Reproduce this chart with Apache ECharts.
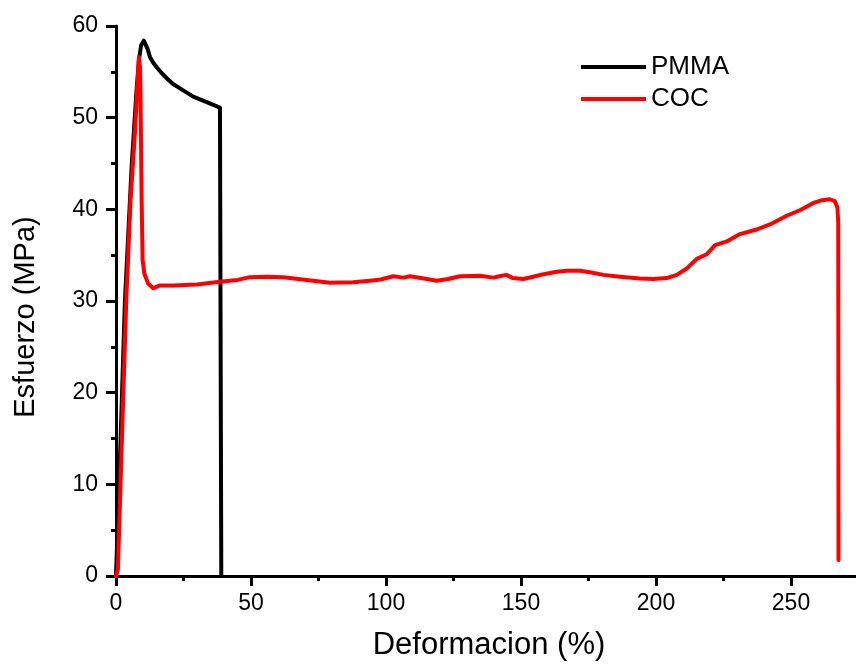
<!DOCTYPE html>
<html>
<head>
<meta charset="utf-8">
<script src="https://cdn.jsdelivr.net/npm/echarts@6/dist/echarts.min.js"></script>
<style>
  html, body { margin: 0; padding: 0; background: #fff; }
  #chart { width: 856px; height: 666px; }
</style>
</head>
<body>
<div id="chart"></div>
<script>
// PMMA curve (deformation %, stress MPa)
var pmmaX = [0, 1.5, 3.3, 5.8, 7.5, 8.5, 9.3, 10.3, 11, 11.7, 12.6, 13.8, 15.1, 16.8, 18.8, 21, 23.7, 28.6, 33.6, 38.5, 38.9, 39.0];
var pmmaY = [0, 13, 30, 44.7, 52.5, 56.3, 57.9, 58.4, 58.2, 57.5, 56.6, 56, 55.5, 54.9, 54.3, 53.7, 53.2, 52.3, 51.7, 51.1, 50.9, 0];

// COC curve
var cocX = [0, 0.7, 2.1, 3.8, 5.4, 7, 8.0, 8.5, 8.9, 9.1, 9.5, 9.85, 10.5, 11.9, 13.8, 16.3, 21.2, 30, 38.5, 45,
  49.6, 55.8, 62, 70.6, 79.3, 87.8, 94, 98, 102.7, 106.4, 108.9, 113, 118.8, 123, 127.4, 134.8, 139.7, 142, 144.6, 147,
  150.8, 154.5, 158, 163.2, 167, 171.9, 176, 180.5, 186.7, 194, 199, 204, 207.7, 211.4, 215.1, 218.8, 221.9, 226.2, 231.1, 237.3,
  242.2, 248.4, 253.3, 258.3, 261.5, 264.4, 266.2, 267.2, 267.5, 267.6];
var cocY = [0, 0.7, 14, 30.1, 41, 48.3, 54, 56.6, 55.5, 51.9, 41, 34.5, 33, 31.9, 31.4, 31.7, 31.7, 31.8, 32.1, 32.3,
  32.6, 32.65, 32.6, 32.3, 32.0, 32.05, 32.2, 32.35, 32.7, 32.55, 32.7, 32.5, 32.2, 32.4, 32.7, 32.75, 32.55, 32.7, 32.85, 32.5,
  32.4, 32.65, 32.9, 33.2, 33.3, 33.3, 33.1, 32.85, 32.65, 32.45, 32.4, 32.5, 32.85, 33.55, 34.6, 35.1, 36.1, 36.5, 37.3, 37.8,
  38.35, 39.3, 39.9, 40.7, 41.0, 41.1, 40.9, 40.2, 38.5, 1.75];

var seriesNames = ['PMMA', 'COC'];
var xTitle = 'Deformacion (%)';
var yTitle = 'Esfuerzo (MPa)';

function pairs(xs, ys) {
    var out = [];
    for (var i = 0; i < xs.length; i++) {
        out.push([xs[i], ys[i]]);
    }
    return out;
}

var font = '"Liberation Sans", Arial, sans-serif';

var myChart = echarts.init(document.getElementById('chart'), null, {renderer: 'canvas'});
var option = {
    backgroundColor: '#ffffff',
    animation: false,
    legend: {
        orient: 'vertical',
        left: 576,
        top: 49,
        icon: 'rect',
        itemWidth: 65,
        itemHeight: 4,
        itemGap: 6,
        textStyle: { fontFamily: font, fontSize: 26, color: '#000' },
        data: seriesNames
    },
    grid: { left: 116, right: -70, top: 26, bottom: 90, outerBoundsMode: 'none' },
    xAxis: {
        type: 'value',
        min: 0,
        max: 300,
        interval: 50,
        name: xTitle,
        nameLocation: 'middle',
        nameGap: 54,
        nameTextStyle: { fontFamily: font, fontSize: 31, color: '#000', padding: [0, 64, 0, 0] },
        axisLine: { show: true, lineStyle: { color: '#000', width: 3 } },
        axisTick: { show: true, length: 10, lineStyle: { color: '#000', width: 3 } },
        minorTick: { show: true, splitNumber: 2, length: 5, lineStyle: { color: '#000', width: 3 } },
        axisLabel: { fontFamily: font, fontSize: 23, color: '#000', margin: 16 },
        splitLine: { show: false }
    },
    yAxis: {
        type: 'value',
        min: 0,
        max: 60,
        interval: 10,
        name: yTitle,
        nameLocation: 'middle',
        nameGap: 76,
        nameRotate: 90,
        nameTextStyle: { fontFamily: font, fontSize: 29, color: '#000', padding: [0, 32, 0, 0] },
        axisLine: { show: true, lineStyle: { color: '#000', width: 3 } },
        axisTick: { show: true, length: 10, lineStyle: { color: '#000', width: 3 } },
        minorTick: { show: true, splitNumber: 2, length: 5, lineStyle: { color: '#000', width: 3 } },
        axisLabel: { fontFamily: font, fontSize: 23, color: '#000', margin: 18 },
        splitLine: { show: false }
    },
    series: [
        {
            name: 'PMMA',
            type: 'line',
            showSymbol: false,
            symbol: 'none',
            color: '#000000',
            lineStyle: { color: '#000000', width: 4, join: 'round', cap: 'round' },
            data: pairs(pmmaX, pmmaY)
        },
        {
            name: 'COC',
            type: 'line',
            showSymbol: false,
            symbol: 'none',
            color: '#ff0000',
            lineStyle: { color: '#ff0000', width: 4, join: 'round', cap: 'round' },
            data: pairs(cocX, cocY)
        }
    ]
};
myChart.setOption(option);
</script>
</body>
</html>
